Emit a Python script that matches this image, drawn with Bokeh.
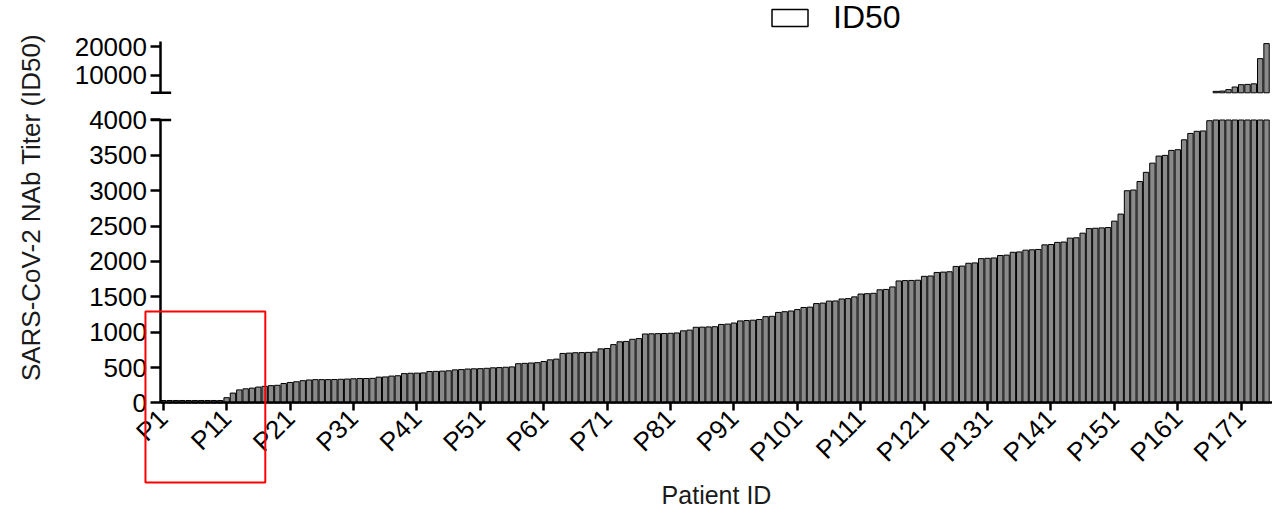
import math

from bokeh.plotting import figure
from bokeh.models import (ColumnDataSource, FixedTicker, Range1d, LinearAxis, BoxAnnotation,
                          Arrow, Label, Legend, LegendItem)
from bokeh.embed import file_html
from bokeh.resources import INLINE

# patient ids, already sorted by titer
patients = [f"P{i}" for i in range(1, 176)]

titers = [
    35, 35, 35, 35, 35, 35, 35, 35, 35, 35,
    75, 140, 185, 200, 210, 225, 235, 245, 250, 275,
    290, 300, 315, 325, 330, 330, 330, 332, 335, 338,
    342, 346, 346, 348, 365, 368, 380, 385, 415, 420,
    422, 425, 445, 447, 450, 455, 468, 472, 480, 483,
    485, 490, 497, 500, 505, 510, 555, 560, 565, 570,
    586, 610, 620, 700, 705, 710, 712, 715, 720, 765,
    770, 825, 865, 870, 900, 910, 975, 978, 980, 982,
    985, 990, 1020, 1030, 1070, 1072, 1075, 1078, 1110, 1115,
    1130, 1160, 1165, 1170, 1180, 1220, 1225, 1280, 1290, 1300,
    1320, 1350, 1355, 1405, 1412, 1440, 1442, 1470, 1475, 1500,
    1540, 1545, 1550, 1600, 1605, 1640, 1725, 1730, 1732, 1735,
    1790, 1795, 1845, 1850, 1855, 1930, 1935, 1975, 1980, 2040,
    2045, 2050, 2085, 2090, 2130, 2135, 2160, 2165, 2170, 2235,
    2240, 2270, 2275, 2330, 2335, 2400, 2465, 2470, 2475, 2480,
    2570, 2670, 3000, 3010, 3130, 3260, 3390, 3490, 3500, 3570,
    3580, 3720, 3810, 3840, 3845, 3990, 4500, 4600, 5100, 6000,
    6800, 6900, 7100, 15800, 21000,
]

x_ticks = list(range(1, 176, 10))
low_ticks = [0, 500, 1000, 1500, 2000, 2500, 3000, 3500, 4000]
high_ticks = [10000, 20000]
break_at = 4000
high_top = 21730

FONT = "Liberation Sans"

pos = list(range(1, len(titers) + 1))
# lower segment of the broken axis shows values up to the break
low_src = ColumnDataSource(dict(pos=pos, name=patients,
                                titer=[min(t, break_at) for t in titers]))
# upper segment shows only the values above it
high_src = ColumnDataSource(dict(
    pos=[p for p, t in zip(pos, titers) if t > break_at],
    name=[n for n, t in zip(patients, titers) if t > break_at],
    titer=[t for t in titers if t > break_at]))

x0, x1 = 0.65, 176  # extent of the drawn x axis

# one frame over the whole canvas; the two y segments use two ranges
p = figure(width=1272, height=511, x_range=Range1d(-24.66, 175.94), y_range=Range1d(-1534, 5689),
           x_axis_location=None, y_axis_location=None, toolbar_location=None,
           output_backend="svg", min_border=0)
p.extra_y_ranges = {"high": Range1d(-140704, 35898)}
p.grid.visible = False
p.outline_line_color = None

bar_style = dict(width=0.85, fill_color="#8a8a8a", line_color="black", line_width=1)
p.vbar(x="pos", top="titer", bottom=0, source=low_src, **bar_style)
p.vbar(x="pos", top="titer", bottom=break_at, source=high_src, y_range_name="high", **bar_style)


def style_axis(ax, ticks, tick_out):
    ax.ticker = FixedTicker(ticks=ticks)
    ax.axis_line_width = 2.5
    ax.major_tick_line_width = 2.5
    ax.major_tick_in = 0
    ax.major_tick_out = tick_out
    ax.minor_tick_in = 0
    ax.minor_tick_out = 0
    ax.major_label_text_font = FONT
    ax.major_label_text_font_size = "26px"
    ax.major_label_text_color = "black"
    ax.major_label_standoff = 4


y_low = LinearAxis(fixed_location=x0, bounds=(0, break_at))
style_axis(y_low, low_ticks, 10)
p.add_layout(y_low, "left")

y_high = LinearAxis(y_range_name="high", fixed_location=x0, bounds=(break_at, high_top))
style_axis(y_high, high_ticks, 10)
p.add_layout(y_high, "left")

x_ax = LinearAxis(fixed_location=0, bounds=(x0, x1))
style_axis(x_ax, x_ticks, 8)
x_ax.major_label_overrides = {t: patients[t - 1] for t in x_ticks}
x_ax.major_label_orientation = math.pi / 4
x_ax.major_label_standoff = 3
x_ax.axis_label = "Patient ID"
x_ax.axis_label_text_font = FONT
x_ax.axis_label_text_font_size = "25px"
x_ax.axis_label_text_font_style = "normal"
x_ax.axis_label_text_color = "#1a1a1a"
x_ax.axis_label_standoff = 0
p.add_layout(x_ax, "below")

# axis break marks
p.add_layout(Arrow(end=None, x_start=x0 - 1.6, x_end=x0 + 1.6, y_start=break_at, y_end=break_at,
                   line_width=2.5, line_color="black"))
p.add_layout(Arrow(end=None, x_start=x0 - 1.6, x_end=x0 + 1.6, y_start=break_at, y_end=break_at,
                   y_range_name="high", line_width=2.5, line_color="black"))

# highlight of the lowest responders
p.add_layout(BoxAnnotation(left=-1.8, right=17.1, bottom=-1124, top=1293,
                           fill_alpha=0, line_color="red", line_alpha=1, line_width=2))

p.add_layout(Label(x=-19.9, y=2763, text="SARS-CoV-2 NAb Titer (ID50)", angle=math.pi / 2,
                   text_align="center", text_baseline="middle",
                   text_font=FONT, text_font_size="26px", text_color="#1a1a1a"))

# legend swatch is the open (white) bar style; proxy renderer is not drawn in the plot
proxy = p.vbar(x="pos", top="titer", bottom=break_at, source=high_src, y_range_name="high",
               width=0.85, fill_color="white", line_color="black", line_width=1.5, visible=False)
legend = Legend(items=[LegendItem(label="ID50", renderers=[proxy])], location=(767, 475),
                orientation="horizontal", glyph_width=45, glyph_height=21, label_standoff=21,
                label_text_font=FONT, label_text_font_size="32px", label_text_color="black",
                padding=0, margin=0, border_line_color=None, background_fill_alpha=0,
                inactive_fill_alpha=0)
p.add_layout(legend)

open("out.html", "w").write(file_html(p, INLINE))
